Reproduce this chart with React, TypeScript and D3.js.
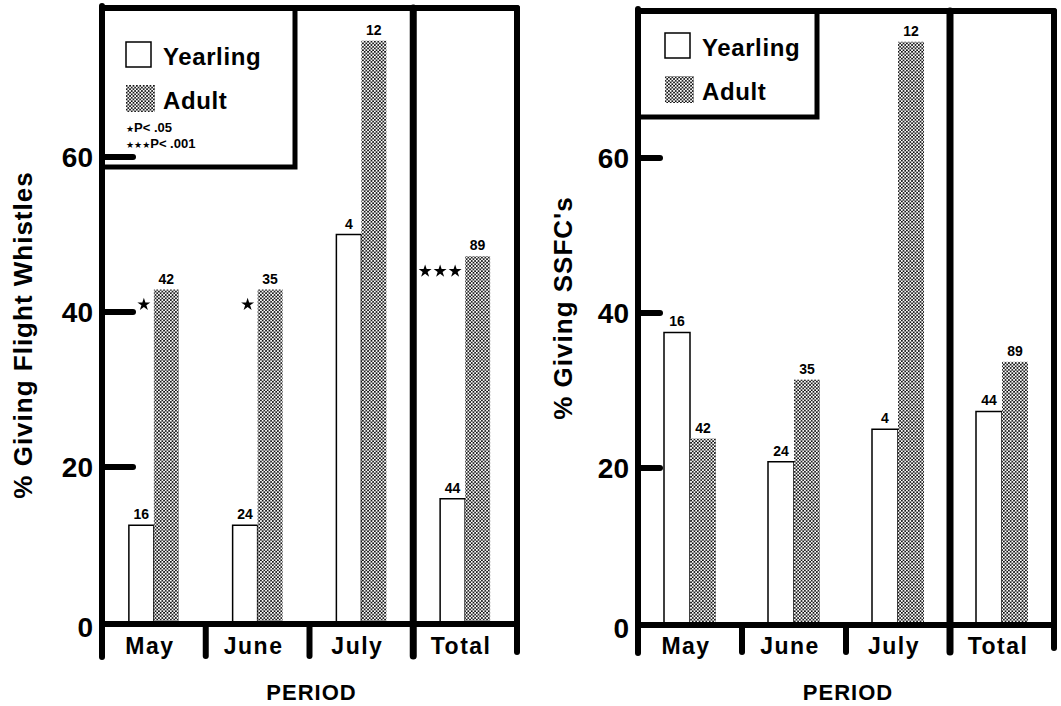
import React from 'react';
import * as d3 from 'd3';

const periods = ['May', 'June', 'July', 'Total'];
const yTicks = [0, 20, 40, 60];

// % giving flight whistles
const whistleYearling = [12.5, 12.5, 50, 15.9];
const whistleAdult = [42.9, 42.9, 75, 47.2];
const whistleStars = [1, 1, 0, 3];

// % giving SSFC's
const ssfcYearling = [37.5, 20.8, 25, 27.3];
const ssfcAdult = [23.8, 31.4, 75, 33.7];
const ssfcStars = [0, 0, 0, 0];

// sample sizes printed over the bars
const yearlingN = [16, 24, 4, 44];
const adultN = [42, 35, 12, 89];

const FONT = '"Liberation Sans", Arial, Helvetica, sans-serif';

const leftCfg = {
    axisX: 102, rightX: 517, topY: 8, zeroY: 622, y60: 157, bottomY: 656,
    tickLen: 31, barW: 25, legendRight: 295, legendBottom: 167,
    title: '% Giving Flight Whistles', titleX: 32, titleY: 335,
    legendSwatchX: 126, yearlingY: 42, adultY: 85, legendTextX: 163, showP: true,
};

const rightCfg = {
    axisX: 638, rightX: 1054, topY: 11, zeroY: 623, y60: 158, bottomY: 652,
    tickLen: 22, barW: 26, legendRight: 817, legendBottom: 117,
    title: "% Giving SSFC's", titleX: 572, titleY: 308,
    legendSwatchX: 665, yearlingY: 33, adultY: 76, legendTextX: 702, showP: false,
};

const starPath = d3.symbol().type(d3.symbolStar).size(52)();

const Panel = ({ cfg, yearling, adult, stars }) => {
    const y = d3.scaleLinear().domain([0, 60]).range([cfg.zeroY, cfg.y60]);
    const x = d3.scaleBand().domain(periods).range([cfg.axisX, cfg.rightX]);
    const bw = cfg.barW;
    const baseY = cfg.zeroY + 2;

    return (
        <g fontFamily={FONT} fontWeight="bold">
            {/* bars */}
            {periods.map((p, i) => {
                const c = x(p) + x.bandwidth() / 2;
                const yt = y(yearling[i]);
                const at = y(adult[i]);
                return (
                    <g key={p}>
                        <path d={`M${c - bw},${baseY} L${c - bw},${yt} L${c},${yt} L${c},${baseY}`}
                            fill="#fff" stroke="#000" strokeWidth={1.5} />
                        <rect x={c} y={at} width={bw} height={baseY - at} fill="url(#stipple)" />
                        <text x={c - bw / 2} y={yt - 6} fontSize={14} textAnchor="middle">{yearlingN[i]}</text>
                        <text x={c + bw / 2} y={at - 6} fontSize={14} textAnchor="middle">{adultN[i]}</text>
                        {d3.range(stars[i]).map(k => (
                            <path key={k} d={starPath}
                                transform={`translate(${c - 10 - (stars[i] - 1 - k) * 15},${at + 15})`} />
                        ))}
                    </g>
                );
            })}

            {/* frame */}
            <g stroke="#000" strokeLinecap="round" fill="none">
                <line x1={cfg.axisX} x2={cfg.axisX} y1={cfg.topY - 2} y2={cfg.bottomY + 1} strokeWidth={6} />
                <line x1={cfg.axisX} x2={cfg.rightX} y1={cfg.topY} y2={cfg.topY} strokeWidth={6} />
                <line x1={cfg.rightX} x2={cfg.rightX} y1={cfg.topY} y2={cfg.bottomY - 4} strokeWidth={6} />
                <line x1={cfg.axisX} x2={cfg.rightX} y1={baseY} y2={baseY} strokeWidth={6} />
                <line x1={x('Total')} x2={x('Total')} y1={cfg.topY} y2={cfg.bottomY} strokeWidth={7} />
                {['June', 'July'].map(p => (
                    <line key={p} x1={x(p)} x2={x(p)} y1={baseY} y2={cfg.bottomY} strokeWidth={6} />
                ))}
                <path d={`M${cfg.axisX},${cfg.legendBottom} L${cfg.legendRight},${cfg.legendBottom} L${cfg.legendRight},${cfg.topY}`}
                    strokeWidth={5} />
                {yTicks.filter(t => t > 0).map(t => (
                    <line key={t} x1={cfg.axisX} x2={cfg.axisX + cfg.tickLen} y1={y(t)} y2={y(t)} strokeWidth={6} />
                ))}
            </g>

            {/* tick labels */}
            {yTicks.map(t => (
                <text key={t} x={cfg.axisX - 9} y={y(t) + (t === 0 ? 15 : 10)} fontSize={28} textAnchor="end">{t}</text>
            ))}

            {/* legend */}
            <rect x={cfg.legendSwatchX} y={cfg.yearlingY} width={25} height={25} fill="#fff" stroke="#000" strokeWidth={1.5} />
            <text x={cfg.legendTextX} y={cfg.yearlingY + 23} fontSize={24} letterSpacing={0.6}>Yearling</text>
            <rect x={cfg.legendSwatchX} y={cfg.adultY} width={29} height={27} fill="url(#stipple)" />
            <text x={cfg.legendTextX} y={cfg.adultY + 24} fontSize={24} letterSpacing={0.6}>Adult</text>
            {cfg.showP && (
                <g fontSize={13}>
                    <text x={126} y={132}><tspan fontSize={9} fontFamily="DejaVu Sans">★</tspan>P&lt; .05</text>
                    <text x={126} y={148}><tspan fontSize={9} fontFamily="DejaVu Sans">★★★</tspan>P&lt; .001</text>
                </g>
            )}

            {/* category labels */}
            {periods.map(p => (
                <text key={p} x={x(p) + x.bandwidth() / 2 - 4} y={654} fontSize={23} letterSpacing={1.5} textAnchor="middle">{p}</text>
            ))}
            <text x={(cfg.axisX + cfg.rightX) / 2 + 2} y={700} fontSize={22} letterSpacing={1} textAnchor="middle">PERIOD</text>

            {/* y title */}
            <text transform={`translate(${cfg.titleX},${cfg.titleY}) rotate(-90)`} fontSize={26} letterSpacing={1} textAnchor="middle">{cfg.title}</text>
        </g>
    );
};

export default function App() {
    return (
        <svg width={1061} height={706} style={{ position: 'absolute', left: 0, top: 0, background: '#fff' }}>
            <defs>
                <pattern id="stipple" patternUnits="userSpaceOnUse" width={3.4} height={3.4}>
                    <rect width={3.4} height={3.4} fill="#fff" />
                    <circle cx={0.85} cy={0.85} r={0.95} fill="#000" />
                    <circle cx={2.55} cy={2.55} r={0.95} fill="#000" />
                </pattern>
            </defs>
            <rect width={1061} height={706} fill="#fff" />
            <Panel cfg={leftCfg} yearling={whistleYearling} adult={whistleAdult} stars={whistleStars} />
            <Panel cfg={rightCfg} yearling={ssfcYearling} adult={ssfcAdult} stars={ssfcStars} />
        </svg>
    );
}
